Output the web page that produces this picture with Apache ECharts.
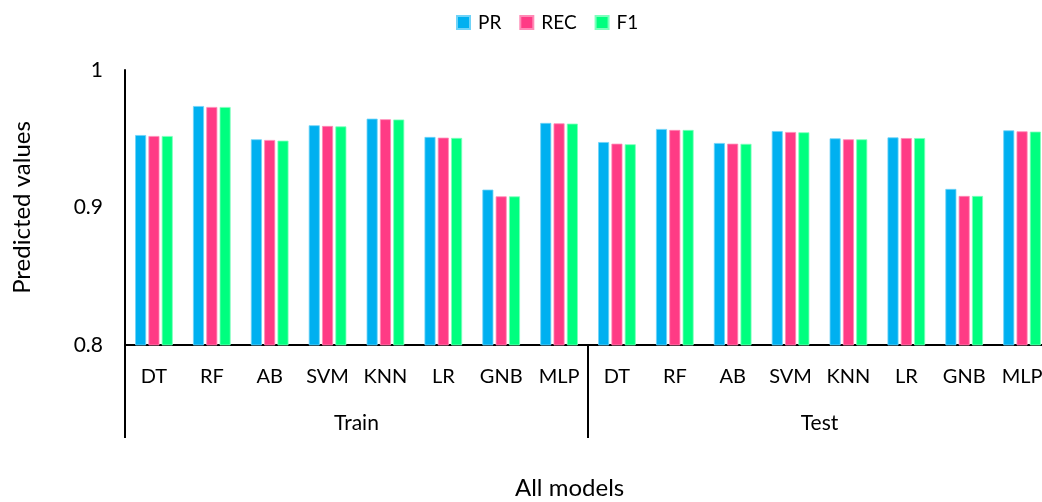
<!DOCTYPE html>
<html>
<head>
<meta charset="utf-8">
<script src="https://cdn.jsdelivr.net/npm/echarts@6/dist/echarts.min.js"></script>
<style>
  html, body { margin: 0; padding: 0; background: #fff; overflow: hidden; }
  /* canvas is a bit wider than the page so the last group runs off the right edge */
  #chart { width: 1060px; height: 502px; }
</style>
</head>
<body>
<div id="chart"></div>
<script>
// Model names, repeated for the Train and Test groups
const models = ['DT', 'RF', 'AB', 'SVM', 'KNN', 'LR', 'GNB', 'MLP'];
const groups = ['Train', 'Test'];
const categories = models.concat(models);

// Precision, recall and F1 per model (Train first, then Test)
const prValues  = [0.9527, 0.9738, 0.9496, 0.9598, 0.9646, 0.9513, 0.9130, 0.9615,
                   0.9476, 0.9571, 0.9469, 0.9556, 0.9503, 0.9510, 0.9135, 0.9561];
const recValues = [0.9520, 0.9731, 0.9491, 0.9593, 0.9642, 0.9508, 0.9081, 0.9612,
                   0.9464, 0.9564, 0.9464, 0.9549, 0.9496, 0.9505, 0.9084, 0.9554];
const f1Values  = [0.9520, 0.9731, 0.9486, 0.9590, 0.9640, 0.9506, 0.9081, 0.9610,
                   0.9460, 0.9564, 0.9463, 0.9547, 0.9496, 0.9505, 0.9084, 0.9552];

const yTicks = { min: 0.8, max: 1, step: 0.1 };

const FONT = 'Lato, "Open Sans", sans-serif';
const colors = { PR: '#00B0F0', REC: '#FF3B85', F1: '#00FF7F' };
const borders = { PR: '#6fd3f8', REC: '#ff8ab6', F1: '#7dffbd' };

const chart = echarts.init(document.getElementById('chart'), null, { renderer: 'canvas' });

function barSeries(name, data) {
  return {
    name: name,
    type: 'bar',
    data: data,
    barWidth: 11,
    barGap: '21%',
    itemStyle: { color: colors[name], borderColor: borders[name], borderWidth: 0.8 }
  };
}

chart.setOption({
  animation: false,
  backgroundColor: '#fff',
  textStyle: { fontFamily: FONT },
  legend: {
    top: 8,
    left: 451,
    itemWidth: 13,
    itemHeight: 13,
    itemGap: 18,
    icon: 'rect',
    textStyle: { fontFamily: FONT, fontSize: 19, color: '#000', padding: [0, 0, 0, 3] },
    data: ['PR', 'REC', 'F1']
  },
  grid: { left: 125, right: 9, top: 70, height: 275, containLabel: false },
  xAxis: [
    {
      type: 'category',
      data: categories,
      position: 'bottom',
      axisLine: { show: true, lineStyle: { color: '#000', width: 2 } },
      axisTick: { show: false },
      axisLabel: { color: '#000', fontSize: 20, fontFamily: FONT, margin: 22, interval: 0 }
    },
    {
      type: 'category',
      data: groups,
      position: 'bottom',
      axisLine: { show: false },
      axisTick: { show: true, length: 93, lineStyle: { color: '#000', width: 2 } },
      axisLabel: { color: '#000', fontSize: 21, fontFamily: FONT, margin: 68 }
    }
  ],
  yAxis: {
    type: 'value',
    min: yTicks.min,
    max: yTicks.max,
    interval: yTicks.step,
    name: 'Predicted values',
    nameLocation: 'middle',
    nameGap: 91,
    nameTextStyle: { color: '#000', fontSize: 24, fontFamily: FONT },
    axisLine: { show: true, lineStyle: { color: '#000', width: 2 } },
    axisTick: { show: false },
    splitLine: { show: false },
    axisLabel: {
      color: '#000', fontSize: 21, fontFamily: FONT, margin: 22,
      formatter: v => String(Math.round(v * 10) / 10)
    }
  },
  graphic: [{
    type: 'text',
    left: 515,
    top: 476,
    style: { text: 'All models', font: '24px ' + FONT, fill: '#000' }
  }],
  series: [
    barSeries('PR', prValues),
    barSeries('REC', recValues),
    barSeries('F1', f1Values)
  ]
});
</script>
</body>
</html>
